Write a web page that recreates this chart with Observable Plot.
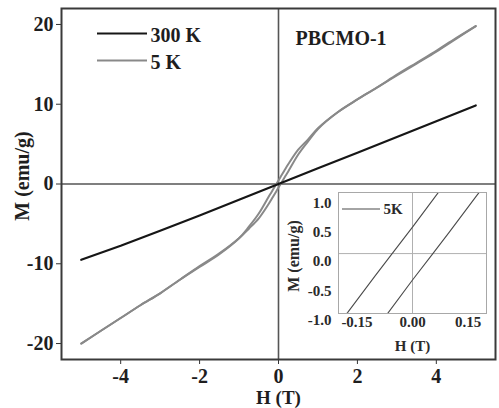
<!DOCTYPE html>
<html>
<head>
<meta charset="utf-8">
<script src="https://cdn.jsdelivr.net/npm/d3@7"></script>
<script src="https://cdn.jsdelivr.net/npm/@observablehq/plot@0.6"></script>
<style>
  body { margin: 0; background: #fff; }
  #chart svg { display: block; }
</style>
</head>
<body>
<div id="chart"></div>
<script>
const FONT = "'Liberation Serif', 'Times New Roman', serif";

// Magnetisation M (emu/g) versus field H (T)
// 300 K isotherm
const field300 = [-5, -4, -3, -2, -1, 0, 1, 2, 3, 4, 5];
const moment300 = [-9.5, -7.75, -5.85, -3.95, -1.97, 0, 1.97, 3.92, 5.88, 7.86, 9.85];

// 5 K hysteresis loop, ascending branch (-5 T -> +5 T)
const fieldUp = [-5, -4.5, -4, -3.5, -3, -2.5, -2, -1.5, -1, -0.75, -0.5, -0.25, -0.15, -0.065,
                 0, 0.055, 0.1, 0.175, 0.25, 0.5, 0.75, 1, 1.5, 2, 2.5, 3, 3.5, 4, 4.5, 5];
const momentUp = [-20.0, -18.4, -16.8, -15.2, -13.7, -12.0, -10.3, -8.7, -6.8, -5.6, -4.3, -2.5, -1.7, -1.0,
                  -0.45, 0, 0.37, 1.0, 1.6, 3.7, 5.35, 6.9, 9.0, 10.6, 12.1, 13.6, 15.1, 16.6, 18.2, 19.8];

// 5 K hysteresis loop, descending branch (+5 T -> -5 T)
const fieldDown = [5, 4.5, 4, 3.5, 3, 2.5, 2, 1.5, 1, 0.75, 0.5, 0.25, 0.15, 0.065,
                   0, -0.055, -0.1, -0.175, -0.25, -0.5, -0.75, -1, -1.5, -2, -2.5, -3, -3.5, -4, -4.5, -5];
const momentDown = [19.8, 18.3, 16.7, 15.2, 13.7, 12.1, 10.6, 9.0, 7.0, 5.6, 4.3, 2.5, 1.7, 1.0,
                    0.45, 0, -0.37, -1.0, -1.6, -3.7, -5.35, -6.8, -8.8, -10.4, -12.0, -13.7, -15.2, -16.8, -18.4, -20.0];

// Axis ticks
const xTicks = [-4, -2, 0, 2, 4];
const yTicks = [-20, -10, 0, 10, 20];
const insetXTicks = [-0.15, 0, 0.15];
const insetYTicks = [-1.0, -0.5, 0.0, 0.5, 1.0];

// Legend entries
const seriesNames = ["300 K", "5 K"];
const insetName = "5K";
const sampleName = "PBCMO-1";

const curve300 = field300.map((H, i) => ({H, M: moment300[i]}));
const loop5 = [
  ...fieldUp.map((H, i) => ({H, M: momentUp[i], branch: "up"})),
  ...fieldDown.map((H, i) => ({H, M: momentDown[i], branch: "down"}))
];

const C300 = "#161616";
const C5 = "#898989";
const bold = {fontWeight: "bold"};

const main = Plot.plot({
  width: 499,
  height: 408,
  marginLeft: 61,
  marginRight: 4,
  marginTop: 8,
  marginBottom: 49,
  style: {fontFamily: FONT, fontSize: "20px", fontWeight: "bold", color: "#1e1e1e", background: "#fff"},
  x: {domain: [-5.5, 5.5]},
  y: {domain: [-22, 22]},
  marks: [
    Plot.ruleX([0], {stroke: "#555", strokeWidth: 1.6}),
    Plot.ruleY([0], {stroke: "#555", strokeWidth: 1.6}),
    Plot.line(loop5, {x: "H", y: "M", z: "branch", stroke: C5, strokeWidth: 2, curve: "catmull-rom"}),
    Plot.line(curve300, {x: "H", y: "M", stroke: C300, strokeWidth: 2.2}),
    Plot.axisX(xTicks, {tickSize: 5, tickPadding: 4, label: null, tickFormat: d => String(d), stroke: "#333"}),
    Plot.axisY(yTicks, {tickSize: 5, tickPadding: 3, label: null, tickFormat: d => String(d), stroke: "#333"}),
    Plot.frame({stroke: "#3a3a3a", strokeWidth: 2}),
    Plot.text(["H (T)"], {text: d => d, frameAnchor: "bottom", dy: 38.3, textAnchor: "middle", lineAnchor: "middle", fontSize: 19, ...bold}),
    Plot.text(["M (emu/g)"], {text: d => d, frameAnchor: "left", dx: -39, dy: -8, rotate: -90, textAnchor: "middle", lineAnchor: "middle", fontSize: 20, ...bold}),
    Plot.text([sampleName], {text: d => d, frameAnchor: "top-left", dx: 234, dy: 30, textAnchor: "start", lineAnchor: "middle", fontSize: 20, ...bold}),
    Plot.text(seriesNames.slice(0, 1), {text: d => d, frameAnchor: "top-left", dx: 89, dy: 27, textAnchor: "start", lineAnchor: "middle", fontSize: 20, ...bold}),
    Plot.text(seriesNames.slice(1, 2), {text: d => d, frameAnchor: "top-left", dx: 89, dy: 54, textAnchor: "start", lineAnchor: "middle", fontSize: 20, ...bold})
  ]
});

// Low-field close-up of the 5 K loop
const inset = Plot.plot({
  width: 215,
  height: 170,
  marginLeft: 58,
  marginRight: 9,
  marginTop: 7,
  marginBottom: 42,
  style: {fontFamily: FONT, fontSize: "15px", fontWeight: "bold", color: "#2a2a2a", background: "transparent", overflow: "visible"},
  x: {domain: [-0.2, 0.2]},
  y: {domain: [-1.02, 1.04]},
  marks: [
    Plot.ruleX([0], {stroke: "#b0b0b0", strokeWidth: 1}),
    Plot.ruleY([0], {stroke: "#b0b0b0", strokeWidth: 1}),
    Plot.line(loop5, {x: "H", y: "M", z: "branch", stroke: "#4a4a4a", strokeWidth: 1.1, clip: true}),
    Plot.axisX(insetXTicks, {tickSize: 0, tickPadding: 3, label: null, tickFormat: d => d.toFixed(2)}),
    Plot.axisY(insetYTicks, {tickSize: 0, tickPadding: 7, dy: 8, label: null, tickFormat: d => d.toFixed(1)}),
    Plot.frame({stroke: "#a8a8a8", strokeWidth: 1}),
    Plot.text(["H (T)"], {text: d => d, frameAnchor: "bottom", dy: 33, textAnchor: "middle", lineAnchor: "middle", fontSize: 15, ...bold}),
    Plot.text(["M (emu/g)"], {text: d => d, frameAnchor: "left", dx: -45, dy: 3, rotate: -90, textAnchor: "middle", lineAnchor: "middle", fontSize: 16, ...bold}),
    Plot.text([insetName], {text: d => d, frameAnchor: "top-left", dx: 45, dy: 17, textAnchor: "start", lineAnchor: "middle", fontSize: 15, ...bold})
  ]
});

const svg = d3.select(main);

// legend swatches for the main panel
const legend = svg.append("g");
legend.append("line").attr("x1", 97).attr("x2", 147).attr("y1", 33.5).attr("y2", 33.5)
  .attr("stroke", C300).attr("stroke-width", 2.2);
legend.append("line").attr("x1", 97).attr("x2", 147).attr("y1", 60.5).attr("y2", 60.5)
  .attr("stroke", C5).attr("stroke-width", 2);

// place the close-up in the lower-right quadrant (explicit size so it is not stretched)
d3.select(inset)
  .attr("x", 280).attr("y", 185)
  .style("width", "215px").style("height", "170px").style("max-width", "none");
main.appendChild(inset);
svg.append("line").attr("x1", 342).attr("x2", 380).attr("y1", 209).attr("y2", 209)
  .attr("stroke", "#4a4a4a").attr("stroke-width", 1.1);

document.getElementById("chart").appendChild(main);
</script>
</body>
</html>
